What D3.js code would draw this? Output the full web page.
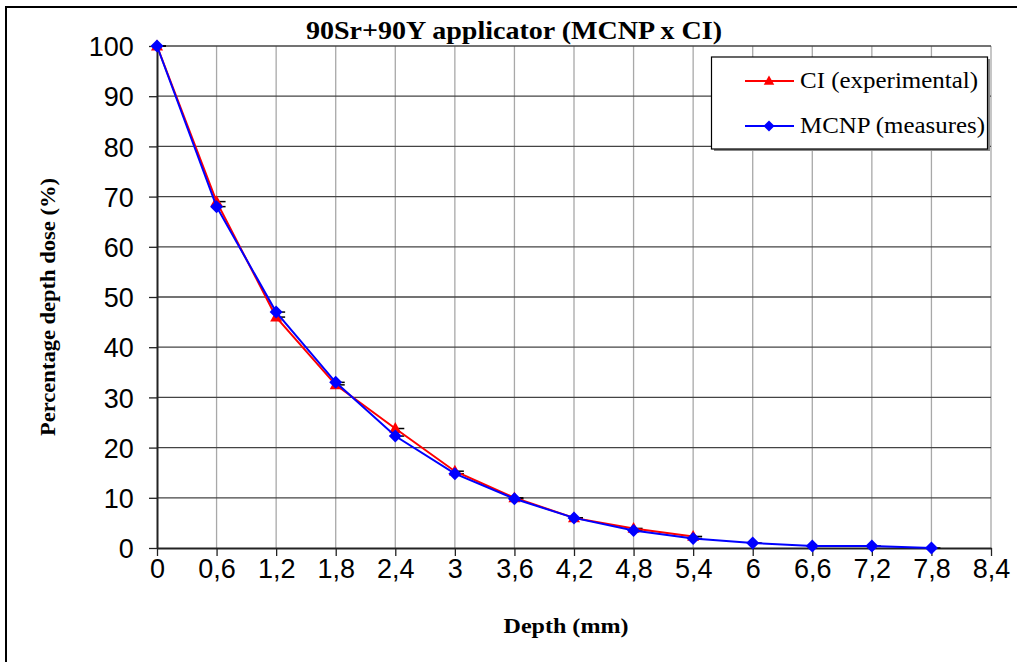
<!DOCTYPE html>
<html><head><meta charset="utf-8">
<script src="https://cdn.jsdelivr.net/npm/d3@7"></script>
<style>html,body{margin:0;padding:0;background:#fff;}svg{display:block;}</style>
</head><body>
<svg id="chart" width="1017" height="662"></svg>
<script>
const depthTicks = [0,0.6,1.2,1.8,2.4,3,3.6,4.2,4.8,5.4,6,6.6,7.2,7.8,8.4];
const yTicks = [0,10,20,30,40,50,60,70,80,90,100];
const ciDepth = [0,0.6,1.2,1.8,2.4,3,3.6,4.2,4.8,5.4];
const ciValues = [100,69,46,32.5,23.8,15.3,10,6,3.9,2.3];
const mcnpDepth = [0,0.6,1.2,1.8,2.4,3,3.6,4.2,4.8,5.4,6,6.6,7.2,7.8];
const mcnpValues = [100,68,47,33,22.3,14.8,9.8,6,3.5,1.9,1,0.4,0.4,0];
const seriesNames = ["CI (experimental)", "MCNP (measures)"];

const svg = d3.select("#chart");
const L = 157, R = 991, T = 46, B = 548;
const x = d3.scaleLinear().domain([0,8.4]).range([L,R]);
const y = d3.scaleLinear().domain([0,100]).range([B,T]);
const fmt = d => String(+d.toFixed(1)).replace(".", ",");

// outer frame
svg.append("path").attr("d","M6,662 L6,7 L1017,7").attr("fill","none").attr("stroke","#000").attr("stroke-width",2);

// grid
svg.append("g").selectAll("line").data(depthTicks.slice(1)).join("line")
  .attr("x1",d=>x(d)).attr("x2",d=>x(d)).attr("y1",T).attr("y2",B)
  .attr("stroke","#a8a8a8").attr("stroke-width",1.3);
svg.append("g").selectAll("line").data(yTicks.slice(1)).join("line")
  .attr("x1",L).attr("x2",R).attr("y1",d=>y(d)).attr("y2",d=>y(d))
  .attr("stroke","#444").attr("stroke-width",1.3);

// axes
const xAxis = svg.append("g").attr("transform",`translate(0,${B})`)
  .call(d3.axisBottom(x).tickValues(depthTicks).tickFormat(fmt).tickSize(8).tickSizeOuter(0));
const yAxis = svg.append("g").attr("transform",`translate(${L},0)`)
  .call(d3.axisLeft(y).tickValues(yTicks).tickSize(8).tickSizeOuter(0));
[xAxis,yAxis].forEach(a=>{
  a.select(".domain").attr("stroke","#222").attr("stroke-width",2);
  a.selectAll(".tick line").attr("stroke","#222").attr("stroke-width",1.3);
  a.selectAll("text").attr("font-family","Liberation Sans, Arial, sans-serif").attr("font-size",27).attr("fill","#000");
});
xAxis.selectAll("text").attr("dy","0.72em");
yAxis.selectAll("text").attr("dx","-0.45em").attr("dy","0.36em");

// titles
svg.append("text").attr("x",514).attr("y",39).attr("text-anchor","middle")
  .attr("font-family","Liberation Serif, Times New Roman, serif").attr("font-weight","bold").attr("font-size",26)
  .attr("textLength",416).attr("lengthAdjust","spacingAndGlyphs")
  .text("90Sr+90Y applicator (MCNP x CI)");
svg.append("text").attr("x",566).attr("y",633).attr("text-anchor","middle")
  .attr("font-family","Liberation Serif, Times New Roman, serif").attr("font-weight","bold").attr("font-size",22)
  .attr("textLength",125).attr("lengthAdjust","spacingAndGlyphs")
  .text("Depth (mm)");
svg.append("text").attr("transform","translate(55,307) rotate(-90)").attr("text-anchor","middle")
  .attr("font-family","Liberation Serif, Times New Roman, serif").attr("font-weight","bold").attr("font-size",20)
  .attr("textLength",258).attr("lengthAdjust","spacingAndGlyphs")
  .text("Percentage depth dose (%)");

const ci = ciDepth.map((d,i)=>({x:d,y:ciValues[i]}));
const mc = mcnpDepth.map((d,i)=>({x:d,y:mcnpValues[i]}));
const line = d3.line().x(d=>x(d.x)).y(d=>y(d.y));

// small black error caps
const caps = svg.append("g");
[ci,mc].forEach(s=>caps.selectAll(null).data(s).join("line")
  .attr("x1",d=>x(d.x)-3).attr("x2",d=>x(d.x)+9).attr("y1",d=>y(d.y)).attr("y2",d=>y(d.y))
  .attr("stroke","#000").attr("stroke-width",1.5));

const triPath = s => `M0,${-s*0.8}L${s*0.75},${s*0.55}L${-s*0.75},${s*0.55}Z`;
const diaPath = s => `M0,${-s}L${s},0L0,${s}L${-s},0Z`;

svg.append("path").datum(ci).attr("d",line).attr("fill","none").attr("stroke","#ff0000").attr("stroke-width",2);
svg.append("g").selectAll("path").data(ci).join("path").attr("d",triPath(8))
  .attr("transform",d=>`translate(${x(d.x)},${y(d.y)})`).attr("fill","#ff0000");
svg.append("path").datum(mc).attr("d",line).attr("fill","none").attr("stroke","#0000ff").attr("stroke-width",2);
svg.append("g").selectAll("path").data(mc).join("path").attr("d",diaPath(6.5))
  .attr("transform",d=>`translate(${x(d.x)},${y(d.y)})`).attr("fill","#0000ff");

// legend
const lg = svg.append("g");
lg.append("rect").attr("x",714).attr("y",59).attr("width",276).attr("height",92).attr("fill","#888");
lg.append("rect").attr("x",711.5).attr("y",57).attr("width",276).attr("height",92).attr("fill","#fff").attr("stroke","#000").attr("stroke-width",1.2);
const items = [{name:seriesNames[0],color:"#ff0000",sym:triPath(7),yy:81,w:178},{name:seriesNames[1],color:"#0000ff",sym:diaPath(5.5),yy:126,w:185}];
items.forEach(it=>{
  lg.append("line").attr("x1",745).attr("x2",794).attr("y1",it.yy).attr("y2",it.yy).attr("stroke",it.color).attr("stroke-width",2);
  lg.append("path").attr("d",it.sym).attr("transform",`translate(769,${it.yy})`).attr("fill",it.color);
  lg.append("text").attr("x",800).attr("y",it.yy+7).attr("font-family","Liberation Serif, Times New Roman, serif")
    .attr("font-size",23).attr("textLength",it.w).attr("lengthAdjust","spacingAndGlyphs").text(it.name);
});
</script>
</body></html>
